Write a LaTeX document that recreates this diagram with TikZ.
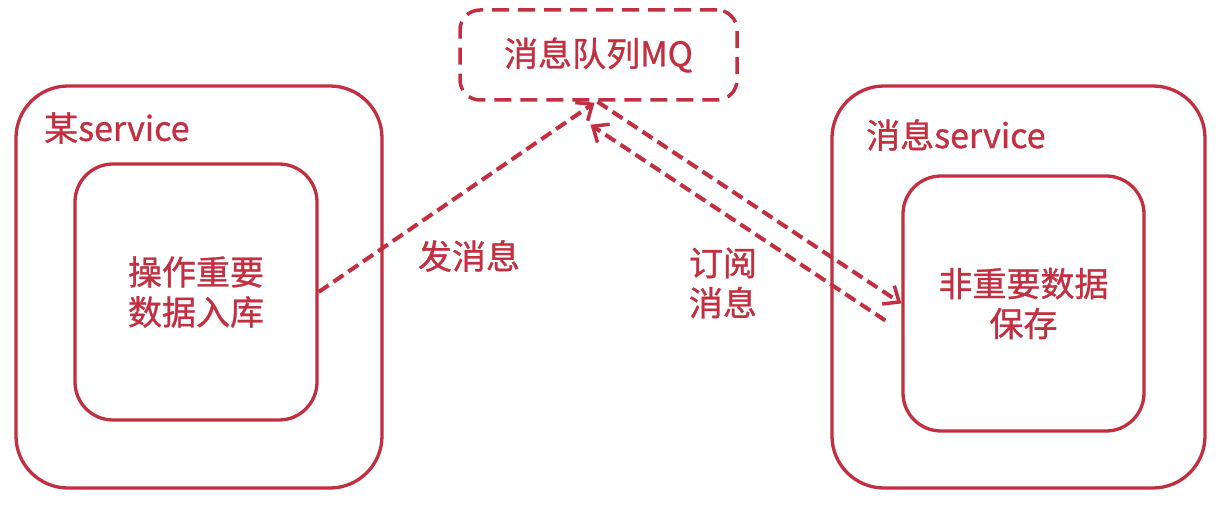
\documentclass[tikz,border=0pt]{standalone}
\usepackage{fontspec}
\setmainfont{Noto Sans CJK SC}[FakeBold=0.9]
\usetikzlibrary{arrows.meta,calc}
\definecolor{myred}{RGB}{194,47,64}
\begin{document}
\begin{tikzpicture}[x=1pt,y=-1pt,
  every node/.style={font=\fontsize{34}{40}\selectfont, text=myred, align=center},
  svcbox/.style={draw=myred, line width=3.3pt, rounded corners=52pt, inner sep=0pt},
  innerbox/.style={draw=myred, line width=3.3pt, rounded corners=38pt, inner sep=0pt},
  mqbox/.style={draw=myred, line width=3.5pt, rounded corners=20pt, dash pattern=on 17pt off 9pt, inner sep=0pt},
  msg/.style={draw=myred, line width=4pt, dash pattern=on 12pt off 6pt, -{Straight Barb[length=13pt,width=22pt,line width=3.5pt]}},
  lbl/.style={inner sep=0pt}
]
\useasboundingbox[fill=white] (0,0) rectangle (1224,505);
% boxes
\node[svcbox, minimum width=366pt, minimum height=402pt] (lsvc) at (199,287) {};
\node[innerbox, minimum width=242pt, minimum height=256pt] (lin) at (196,292) {操作重要\\数据入库};
\node[svcbox, minimum width=373pt, minimum height=402pt] (rsvc) at (1018.5,287) {};
\node[innerbox, minimum width=241pt, minimum height=255pt] (rin) at (1023.5,303.5) {非重要数据\\保存};
\node[mqbox, minimum width=277pt, minimum height=90pt] (mq) at (598.5,55) {消息队列MQ};
% titles
\node[lbl, anchor=west] (ltitle) at (44,128) {某service};
\node[lbl, anchor=west] (rtitle) at (866,135) {消息service};
% arrows
\draw[msg] (lin.east) -- ($(mq.south)+(-4,1)$);
\draw[msg] ($(mq.south)+(-1,0)$) -- (rin.west);
\draw[msg] ($(rin.west)+(-16,17)$) -- ($(mq.south)+(-8,23)$);
% labels
\node[lbl] (send) at (469,256) {发消息};
\node[lbl] (sub) at (723,283) {订阅\\消息};
\end{tikzpicture}
\end{document}
